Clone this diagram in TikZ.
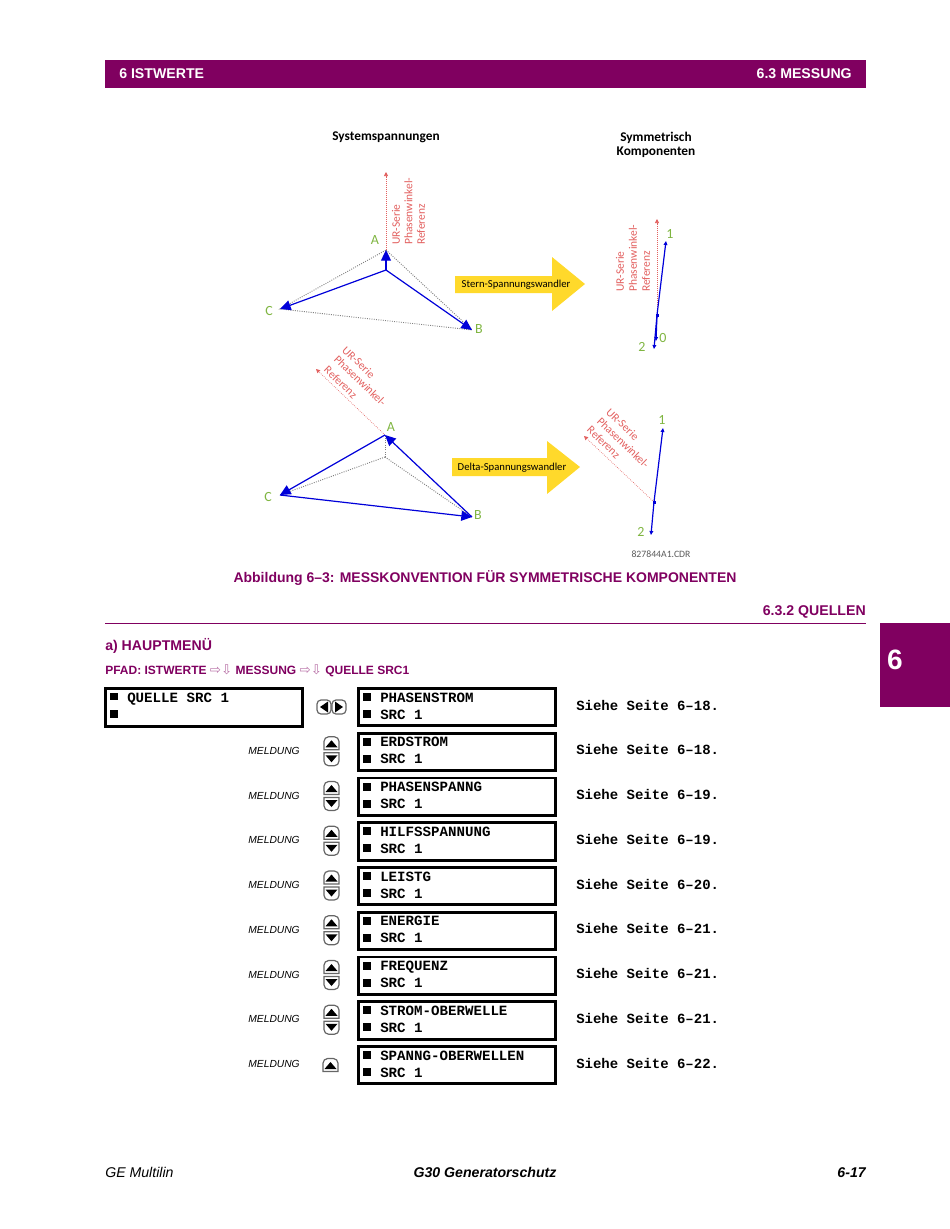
\documentclass[tikz,border=0pt]{standalone}
\usepackage{fontspec}
\usetikzlibrary{arrows.meta}
\newfontfamily\arialfont{Liberation Sans}
\newfontfamily\courfont{Liberation Mono}
\newfontfamily\geofont{Carlito}
\newfontfamily\symfont{DejaVu Sans}
\definecolor{gepurple}{HTML}{800060}
\definecolor{refred}{HTML}{E2605F}
\definecolor{phasegreen}{HTML}{7FB541}
\definecolor{convyellow}{HTML}{FFD92B}
\tikzset{
  head/.style={font=\arialfont\bfseries\fontsize{10.6}{12}\selectfont,text=white,inner sep=0pt},
  purpletext/.style={font=\arialfont\bfseries\fontsize{10.6}{12}\selectfont,text=gepurple,inner sep=0pt},
  foot/.style={font=\arialfont\itshape\fontsize{10.6}{12}\selectfont,inner sep=0pt},
  title/.style={font=\geofont\bfseries\fontsize{10}{11}\selectfont,inner sep=0pt},
  reflabel/.style={font=\geofont\fontsize{8.6}{10}\selectfont,text=refred,inner sep=0pt},
  phaselabel/.style={font=\geofont\fontsize{10.5}{11}\selectfont,text=phasegreen,inner sep=0pt},
  convlabel/.style={font=\geofont\fontsize{8}{10}\selectfont,inner sep=0pt},
  bigphase/.style={blue!85!black,line width=0.9pt,-{Triangle[length=8pt,width=7.5pt]}},
  smallphase/.style={blue!85!black,line width=0.9pt,-{Triangle[length=3pt,width=2.8pt]}},
  refline/.style={refred,densely dotted,line width=0.5pt,-{Triangle[length=3pt,width=3pt]}},
  helpline/.style={black!50,densely dotted,line width=0.7pt},
  screen/.style={draw,line width=2.2pt,minimum width=147.75pt,minimum height=28.1pt,inner sep=0pt,anchor=north west},
  scrtext/.style={font=\courfont\bfseries\fontsize{10.6}{12}\selectfont,inner sep=0pt,anchor=base west},
  seite/.style={font=\courfont\bfseries\fontsize{10.5}{12}\selectfont,inner sep=0pt,anchor=base west},
  meldung/.style={font=\arialfont\itshape\fontsize{7.7}{10}\selectfont,inner sep=0pt,anchor=east},
  btn/.style={draw=black!60,fill=white,line width=0.9pt},
  pics/upbtn/.style={code={
    \draw[btn] (-7.5,-1.5) [rounded corners=3.5pt] -- (-7.5,-14.5) -- (7.5,-14.5) [sharp corners] -- (7.5,-1.5) -- cycle;
    \fill (-6,-4) -- (0,-11) -- (6,-4) -- cycle;}},
  pics/downbtn/.style={code={
    \draw[btn] (-7.5,1.5) [rounded corners=3.5pt] -- (-7.5,14.5) -- (7.5,14.5) [sharp corners] -- (7.5,1.5) -- cycle;
    \fill (-6,4) -- (0,11) -- (6,4) -- cycle;}},
}
\begin{document}
\begin{tikzpicture}[x=0.75pt,y=-0.75pt]
\useasboundingbox (0,0) rectangle (950,1229);
% page furniture
\fill[gepurple] (105,60) rectangle (866,88);
\node[head,anchor=west] (hleft) at (119,73.5) {6 ISTWERTE};
\node[head,anchor=east] (hright) at (852,73.5) {6.3 MESSUNG};
\fill[gepurple] (880,623) rectangle (950,707);
\node[font=\arialfont\bfseries\fontsize{21}{24}\selectfont,text=white,inner sep=0pt] (tabnum) at (895,660) {6};
% upper star diagram
\node[title] (tsys) at (386,137.5) {Systemspannungen};
\node[title] (tsym) at (656,137.5) {Symmetrisch};
\node[title] (tkomp) at (656,152.5) {Komponenten};
\coordinate (oa) at (386,270);
\coordinate (a) at (386,250);
\coordinate (b) at (472,330);
\coordinate (c) at (280,309);
\coordinate (rtop) at (386,172);
\draw[helpline] (a) -- (b) -- (c) -- cycle;
\draw[refline] (a) -- (rtop);
\draw[bigphase] (oa) -- (a);
\draw[bigphase] (oa) -- (b);
\draw[bigphase] (oa) -- (c);
\node[phaselabel] (la) at (375,240.5) {A};
\node[phaselabel] (lb) at (479,328.5) {B};
\node[phaselabel] (lc) at (269,311) {C};
\node[reflabel,rotate=90,anchor=west] (r1) at (396,245) {UR-Serie};
\node[reflabel,rotate=90,anchor=west] (r2) at (408.5,245) {Phasenwinkel-};
\node[reflabel,rotate=90,anchor=west] (r3) at (421,245) {Referenz};
% star converter arrow
\fill[convyellow] (455,276) -- (552,276) -- (552,257) -- (585,284) -- (552,311) -- (552,293) -- (455,293) -- cycle;
\node[convlabel] (star) at (516,284.5) {Stern-Spannungswandler};
% upper components
\coordinate (so) at (657,315);
\coordinate (s1) at (666,241);
\coordinate (s2) at (654,349);
\coordinate (s0) at (656,341);
\coordinate (srtop) at (657,219);
\draw[refline] (so) -- (srtop);
\draw[smallphase] (so) -- (s1);
\draw[smallphase] (so) -- (s2);
\draw[smallphase] (so) -- (s0);
\fill[blue!85!black] (655.5,313.5) rectangle (658.5,316.5);
\node[phaselabel] (l1) at (670,233.5) {1};
\node[phaselabel] (l0) at (663,337.5) {0};
\node[phaselabel] (l2) at (642,346.5) {2};
\node[reflabel,rotate=90,anchor=west] (s1r) at (620,292) {UR-Serie};
\node[reflabel,rotate=90,anchor=west] (s2r) at (633,292) {Phasenwinkel-};
\node[reflabel,rotate=90,anchor=west] (s3r) at (646,292) {Referenz};
% lower delta diagram
\coordinate (do) at (385,457);
\coordinate (da) at (385,435);
\coordinate (db) at (472,517);
\coordinate (dc) at (280,495);
\coordinate (drtop) at (316,369);
\draw[helpline] (do) -- (da);
\draw[helpline] (do) -- (db);
\draw[helpline] (do) -- (dc);
\draw[refline] (da) -- (drtop);
\draw[bigphase] (da) -- (dc);
\draw[bigphase] (dc) -- (db);
\draw[bigphase] (db) -- (da);
\node[phaselabel] (dla) at (391,427) {A};
\node[phaselabel] (dlb) at (478,515) {B};
\node[phaselabel] (dlc) at (268,497) {C};
\node[reflabel,rotate=-44,anchor=west] (d1r) at (344,348) {UR-Serie};
\node[reflabel,rotate=-44,anchor=west] (d2r) at (336,357) {Phasenwinkel-};
\node[reflabel,rotate=-44,anchor=west] (d3r) at (326,368) {Referenz};
% delta converter arrow
\fill[convyellow] (452,458) -- (547,458) -- (547,441) -- (580,467) -- (547,494) -- (547,476) -- (452,476) -- cycle;
\node[convlabel] (delta) at (512,467.5) {Delta-Spannungswandler};
% lower components
\coordinate (to) at (654,502);
\coordinate (t1) at (663,428);
\coordinate (t2) at (651,535);
\coordinate (trtop) at (584,436);
\draw[refline] (to) -- (trtop);
\draw[smallphase] (to) -- (t1);
\draw[smallphase] (to) -- (t2);
\fill[blue!85!black] (652.5,500.5) rectangle (655.5,503.5);
\node[phaselabel] (tl1) at (662,420) {1};
\node[phaselabel] (tl2) at (641,532) {2};
\node[reflabel,rotate=-44,anchor=west] (t1r) at (608,410) {UR-Serie};
\node[reflabel,rotate=-44,anchor=west] (t2r) at (599,419) {Phasenwinkel-};
\node[reflabel,rotate=-44,anchor=west] (t3r) at (589,428) {Referenz};
\node[font=\geofont\fontsize{7.3}{9}\selectfont,text=black!65,inner sep=0pt] (cdr) at (661,554) {827844A1.CDR};
% caption and section heads
\node[purpletext,font=\arialfont\bfseries\fontsize{10.5}{12}\selectfont] (cap) at (485,578) {Abbildung 6–3: MESSKONVENTION FÜR SYMMETRISCHE KOMPONENTEN};
\node[purpletext,anchor=east] (sec) at (866,612) {6.3.2 QUELLEN};
\draw[gepurple,line width=1.2pt] (105,623.5) -- (866,623.5);
\node[purpletext,anchor=west] (sub) at (105,645.5) {a) HAUPTMENÜ};
\node[purpletext,anchor=west,font=\arialfont\bfseries\fontsize{9}{11}\selectfont] (pfad) at (105,670.5) {PFAD: ISTWERTE {\symfont\mdseries\fontsize{10}{11}\selectfont\color{gepurple!55}⇨⇩} MESSUNG {\symfont\mdseries\fontsize{10}{11}\selectfont\color{gepurple!55}⇨⇩} QUELLE SRC1};
% menu
\node[screen,minimum height=28.5pt] (src) at (104,687) {};
\fill (110,692.5) rectangle (117.5,700);
\fill (110,710) rectangle (117.5,717.5);
\node[scrtext] (srctxt) at (127,702) {QUELLE SRC 1};
\draw[btn,rounded corners=3pt] (317,700) rectangle (331,714);
\draw[btn,rounded corners=3pt] (332,700) rectangle (346,714);
\fill (320,707) -- (328,701.5) -- (328,712.5) -- cycle;
\fill (343,707) -- (335,701.5) -- (335,712.5) -- cycle;
\foreach \i/\name/\pg in {0/PHASENSTROM/18,1/ERDSTROM/18,2/PHASENSPANNG/19,3/HILFSSPANNUNG/19,4/LEISTG/20,5/ENERGIE/21,6/FREQUENZ/21,7/STROM-OBERWELLE/21,8/SPANNG-OBERWELLEN/22} {
  \pgfmathsetmacro{\ytop}{687+44.75*\i}
  \node[screen] (scr\i) at (357,\ytop) {};
  \fill (363,\ytop+6) rectangle (371,\ytop+14);
  \fill (363,\ytop+23) rectangle (371,\ytop+31);
  \node[scrtext] (name\i) at (380,\ytop+15) {\name};
  \node[scrtext] (src\i) at (380,\ytop+32) {SRC 1};
  \node[seite] (pg\i) at (576,\ytop+23) {Siehe Seite 6–\pg.};
}
\foreach \i in {1,...,8} {
  \pgfmathsetmacro{\ymid}{687+44.75*\i+19}
  \node[meldung] (mel\i) at (300,\ymid) {MELDUNG};
}
\foreach \i in {1,...,7} {
  \pgfmathsetmacro{\ymid}{687+44.75*\i+19.5}
  \pic at (331.5,\ymid) {upbtn};
  \pic at (331.5,\ymid) {downbtn};
}
\pic at (330.5,1073) {upbtn};
% footer
\node[foot,anchor=west] (fl) at (105,1172.5) {GE Multilin};
\node[foot,font=\arialfont\bfseries\itshape\fontsize{10.6}{12}\selectfont] (fm) at (485,1172.5) {G30 Generatorschutz};
\node[foot,font=\arialfont\bfseries\itshape\fontsize{10.6}{12}\selectfont,anchor=east] (fr) at (866,1172.5) {6-17};
\end{tikzpicture}
\end{document}
